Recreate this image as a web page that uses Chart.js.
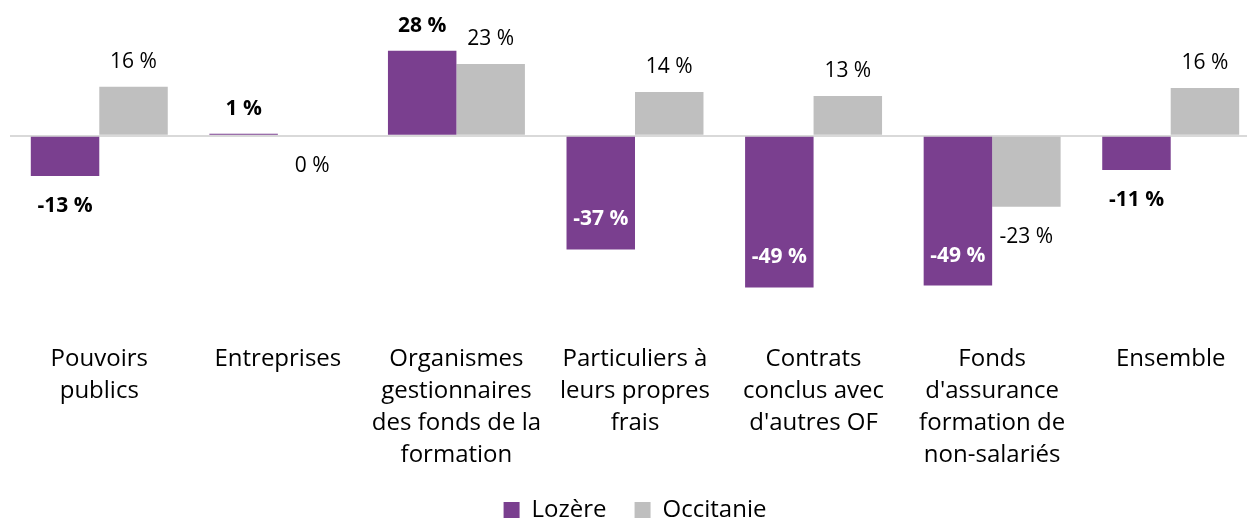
<!DOCTYPE html>
<html>
<head>
<meta charset="utf-8">
<script src="https://cdn.jsdelivr.net/npm/chart.js@4.4.0/dist/chart.umd.min.js"></script>
<style>
  html, body { margin: 0; padding: 0; background: #fff; overflow: hidden; }
  #wrap { width: 1262px; height: 520px; }
</style>
</head>
<body>
<div id="wrap"><canvas id="chart"></canvas></div>
<script>
// categories (multi-line labels)
const categories = [
  ["Pouvoirs", "publics"],
  ["Entreprises"],
  ["Organismes", "gestionnaires", "des fonds de la", "formation"],
  ["Particuliers à", "leurs propres", "frais"],
  ["Contrats", "conclus avec", "d'autres OF"],
  ["Fonds", "d'assurance", "formation de", "non-salariés"],
  ["Ensemble"]
];

// series values (%)
const lozere = [-13.1, 0.7, 27.7, -37.0, -49.4, -48.8, -11.1];
const occitanie = [16.0, 0, 23.4, 14.3, 13.0, -23.1, 15.6];

const PURPLE = '#7a3f8f';
const GREY = '#bfbfbf';
const FONT = "'Open Sans', 'Noto Sans', sans-serif";

// draws the value labels above / below / inside the bars
const valueLabels = {
  id: 'valueLabels',
  afterDatasetsDraw(chart) {
    const ctx = chart.ctx;
    ctx.save();
    ctx.textAlign = 'center';
    ctx.textBaseline = 'middle';
    chart.data.datasets.forEach((ds, di) => {
      const meta = chart.getDatasetMeta(di);
      const bold = di === 0;
      ctx.font = (bold ? 'bold ' : '') + '21px ' + FONT;
      meta.data.forEach((bar, i) => {
        const v = ds.data[i];
        const txt = Math.round(v) + ' %';
        let y;
        ctx.fillStyle = '#000';
        if (v > 0) {
          y = bar.y - 25;
        } else if (bold && v < -30) {
          y = bar.y - 30;
          ctx.fillStyle = '#fff';
        } else {
          y = bar.y + 30;
        }
        ctx.fillText(txt, bar.x, y);
      });
    });
    ctx.restore();
  }
};

new Chart(document.getElementById('chart'), {
  type: 'bar',
  data: {
    labels: categories,
    datasets: [
      { label: 'Lozère', data: lozere, backgroundColor: PURPLE },
      { label: 'Occitanie', data: occitanie, backgroundColor: GREY }
    ]
  },
  options: {
    responsive: true,
    maintainAspectRatio: false,
    animation: false,
    // legend sits a bit lower than chart.js would place it
    layout: { padding: { left: 10, right: 2, top: 13, bottom: -12 } },
    datasets: { bar: { categoryPercentage: 0.767, barPercentage: 1.0 } },
    scales: {
      x: {
        grid: { display: false },
        border: { display: false },
        afterFit: s => { s.height = 150; },
        ticks: {
          color: '#000',
          padding: 15,
          maxRotation: 0,
          autoSkip: false,
          font: { family: FONT, size: 24, lineHeight: 1.333 }
        }
      },
      y: {
        display: true,
        min: -60,
        max: 40,
        ticks: { display: false, stepSize: 10 },
        border: { display: false },
        grid: {
          drawTicks: false,
          lineWidth: 2,
          color: c => (c.tick && c.tick.value === 0 ? '#d9d9d9' : 'rgba(0,0,0,0)')
        }
      }
    },
    plugins: {
      legend: {
        position: 'bottom',
        labels: {
          color: '#000',
          boxWidth: 16,
          boxHeight: 16,
          padding: 28,
          font: { family: FONT, size: 24 }
        }
      },
      tooltip: { enabled: false }
    }
  },
  plugins: [valueLabels]
});
</script>
</body>
</html>
